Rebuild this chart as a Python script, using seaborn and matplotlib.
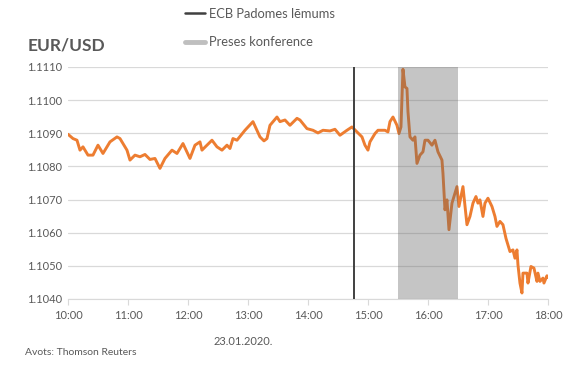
import pandas as pd
import matplotlib.pyplot as plt
import seaborn as sns
from matplotlib.lines import Line2D

# minutes after 10:00 and EUR/USD rate
minutes = [0, 5, 9, 12, 15, 20, 25, 30, 35, 42, 49, 52, 59, 62, 67, 72, 77, 82, 87, 92,
           97, 104, 109, 115, 122, 127, 132, 134, 144, 149, 154, 159, 162, 165, 169, 177,
           185, 192, 196, 199, 202, 209, 212, 217, 222, 229, 232, 239, 245, 250, 255, 262,
           267, 272, 279, 284, 289, 294, 297, 300, 302, 307, 310, 317, 320, 322, 325, 329,
           331, 333, 335, 337, 339, 340, 342, 345, 347, 349, 352, 355, 357, 360, 364, 367,
           370, 374, 375, 377, 379, 381, 384, 387, 389, 391, 395, 399, 402, 405, 408, 410,
           412, 415, 417, 420, 424, 427, 429, 432, 435, 438, 442, 445, 447, 449, 450, 452,
           454, 455, 459, 460, 463, 466, 469, 470, 472, 475, 476, 479, 480]
rate = [1.10897, 1.10884, 1.10879, 1.10849, 1.10859, 1.10834, 1.10834, 1.10864, 1.10839, 1.10874,
        1.10889, 1.10884, 1.10849, 1.10819, 1.10834, 1.10829, 1.10836, 1.10821, 1.10824, 1.10794,
        1.10824, 1.10849, 1.10839, 1.10869, 1.10824, 1.10864, 1.10874, 1.10849, 1.10879, 1.10859,
        1.10849, 1.10864, 1.10854, 1.10884, 1.10879, 1.10909, 1.10935, 1.10889, 1.10877, 1.10884,
        1.10924, 1.10949, 1.10935, 1.10940, 1.10924, 1.10945, 1.10940, 1.10914, 1.10909, 1.10901,
        1.10909, 1.10907, 1.10912, 1.10894, 1.10909, 1.10919, 1.10904, 1.10889, 1.10864, 1.10849,
        1.10874, 1.10899, 1.10909, 1.10909, 1.10904, 1.10935, 1.10949, 1.10924, 1.10899, 1.10919,
        1.11093, 1.11040, 1.11035, 1.10965, 1.10889, 1.10879, 1.10889, 1.10809, 1.10834, 1.10844,
        1.10879, 1.10879, 1.10864, 1.10879, 1.10844, 1.10819, 1.10779, 1.10669, 1.10699, 1.10609,
        1.10689, 1.10719, 1.10739, 1.10679, 1.10739, 1.10624, 1.10649, 1.10689, 1.10709, 1.10689,
        1.10699, 1.10649, 1.10689, 1.10704, 1.10679, 1.10649, 1.10619, 1.10634, 1.10624, 1.10583,
        1.10543, 1.10548, 1.10523, 1.10548, 1.10503, 1.10448, 1.10418, 1.10478, 1.10478, 1.10448,
        1.10498, 1.10493, 1.10453, 1.10478, 1.10453, 1.10463, 1.10448, 1.10470, 1.10465]

hour_ticks = [0, 60, 120, 180, 240, 300, 360, 420, 480]
hour_labels = ['10:00', '11:00', '12:00', '13:00', '14:00', '15:00', '16:00', '17:00', '18:00']
y_ticks = [1.1040, 1.1050, 1.1060, 1.1070, 1.1080, 1.1090, 1.1100, 1.1110]

ecb_decision = 286          # 14:46
press_conf = (330, 390)     # 15:30 - 16:30

df = pd.DataFrame({'minute': minutes, 'rate': rate})

sns.set_style('white')
plt.rcParams['font.family'] = ['Lato', 'DejaVu Sans']
txt = '#595959'

fig = plt.figure(figsize=(5.83, 3.70), dpi=100)
ax = fig.add_axes([0.1166, 0.192, 0.8233, 0.627])

sns.lineplot(data=df, x='minute', y='rate', ax=ax, color='#ED7D31', linewidth=2.1, zorder=3)
ax.axvspan(press_conf[0], press_conf[1], color='#646464', alpha=0.37, lw=0, zorder=4)
ax.axvline(ecb_decision, color='#404040', linewidth=1.4, zorder=5)

ax.set_xlim(0, 480)
ax.set_ylim(1.1040, 1.1110)
ax.set_xticks(hour_ticks)
ax.set_xticklabels(hour_labels)
ax.set_yticks(y_ticks)
ax.set_yticklabels([f'{v:.4f}' for v in y_ticks])
ax.yaxis.grid(True, color='#D9D9D9', linewidth=0.9)
ax.set_axisbelow(True)
ax.tick_params(axis='both', labelsize=8, colors=txt, pad=4)
ax.tick_params(axis='x', length=4, color='#D9D9D9', direction='out', bottom=True)
ax.tick_params(axis='y', length=0)
ax.set_xlabel('')
ax.set_ylabel('')
for s in ['left', 'right', 'top']:
    ax.spines[s].set_visible(False)
ax.spines['bottom'].set_color('#D9D9D9')

fig.text(0.048, 0.878, 'EUR/USD', fontsize=12.5, fontweight='bold', color=txt, va='center')
fig.text(0.417, 0.077, '23.01.2020.', fontsize=8, color=txt, ha='center', va='center')
fig.text(0.043, 0.048, 'Avots: Thomson Reuters', fontsize=7.5, color=txt, va='center')

handles = [Line2D([], [], color='#404040', linewidth=1.8),
           Line2D([], [], color='#BFBFBF', linewidth=3.5)]
fig.legend(handles, ['ECB Padomes lēmums', 'Preses konference'],
           loc='upper left', bbox_to_anchor=(0.298, 1.01), frameon=False,
           fontsize=9.3, labelcolor=txt, handlelength=1.5, handletextpad=0.3,
           labelspacing=1.25)

fig.savefig('out.png', dpi=100)
